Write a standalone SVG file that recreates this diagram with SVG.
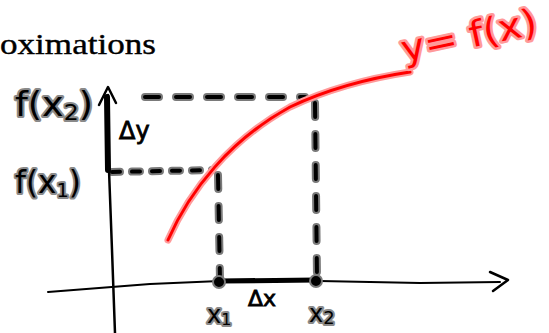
<svg xmlns="http://www.w3.org/2000/svg" width="549" height="333" viewBox="0 0 549 333">
<style>
.ink{fill:none;stroke:#000;stroke-linecap:round;stroke-linejoin:round}
.dash{fill:none;stroke:#000;stroke-width:4;stroke-linecap:round}
.halo{fill:none;stroke:#7a7a7a;stroke-width:8;stroke-linecap:round}
.lbl{font-family:"DejaVu Sans",sans-serif;fill:#000;stroke:#8a8a8a;stroke-width:4;stroke-linejoin:round;paint-order:stroke}
.red{font-family:"DejaVu Sans",sans-serif;fill:#ff0000;stroke:#ff9a9a;stroke-width:5;stroke-linejoin:round;paint-order:stroke}
.note{font-family:"DejaVu Sans",sans-serif;fill:#000}
</style>
<rect width="549" height="333" fill="#fff"/>
<text x="0" y="54" font-family="Liberation Serif,serif" font-size="30" stroke="#000" stroke-width="0.4" textLength="156" lengthAdjust="spacingAndGlyphs">oximations</text>
<g id="connectors">
  <g stroke-dasharray="14 17">
    <line class="halo" x1="145" y1="97" x2="305" y2="97"/>
    <line class="halo" x1="315" y1="103" x2="317" y2="278"/>
    <line class="halo" x1="112" y1="172" x2="212" y2="170" stroke-dasharray="8 12"/>
    <line class="halo" x1="218" y1="175" x2="220" y2="280"/>
    <line class="dash" x1="145" y1="97" x2="305" y2="97"/>
    <line class="dash" x1="315" y1="103" x2="317" y2="278"/>
    <line class="dash" x1="112" y1="172" x2="212" y2="170" stroke-dasharray="8 12"/>
    <line class="dash" x1="218" y1="175" x2="220" y2="280"/>
  </g>
  <path d="M168,240 C190,190 230,140 290,107 C330,88 370,78 410,72" fill="none" stroke="#ff9a9a" stroke-width="7" stroke-linecap="round"/>
  <path d="M168,240 C190,190 230,140 290,107 C330,88 370,78 410,72" fill="none" stroke="#ff0000" stroke-width="3" stroke-linecap="round"/>
  <path class="ink" d="M108,95 L109,170 L112,250 L115,333" stroke-width="2.5"/>
  <path class="ink" d="M107,97 L108,170" stroke-width="6"/>
  <path class="ink" d="M99,105 L108,87 L116,103" stroke-width="2.5"/>
  <path class="ink" d="M48,292 L150,284 L220,281 L320,281 L420,283 L500,282" stroke-width="2"/>
  <path class="ink" d="M490,272 L508,280 L493,291" stroke-width="2.5"/>
  <path class="ink" d="M220,281 L316,280" stroke-width="5"/>
  <circle cx="219" cy="282" r="6" fill="#000" stroke="#7a7a7a" stroke-width="2"/>
  <circle cx="316" cy="281" r="6" fill="#000" stroke="#7a7a7a" stroke-width="2"/>
</g>
<g id="label-fx2"><text class="lbl" x="15" y="116" font-size="34" textLength="78" lengthAdjust="spacingAndGlyphs">f(x<tspan font-size="22" dy="4">2</tspan><tspan dy="-4">)</tspan></text></g>
<g id="label-fx1"><text class="lbl" x="15" y="193" font-size="32" textLength="66" lengthAdjust="spacingAndGlyphs">f(x<tspan font-size="20" dy="4">1</tspan><tspan dy="-4">)</tspan></text></g>
<g id="label-dy"><text class="note" x="119" y="139" font-size="24" stroke="#000" stroke-width="0.8">Δy</text></g>
<g id="label-dx"><text class="note" x="248" y="306" font-size="22" stroke="#000" stroke-width="0.8">Δx</text></g>
<g id="label-x1"><text class="lbl" x="207" y="323" font-size="24">x<tspan font-size="16" dy="2">1</tspan></text></g>
<g id="label-x2"><text class="lbl" x="309" y="322" font-size="24">x<tspan font-size="18" dy="2">2</tspan></text></g>
<g id="label-yfx"><text class="red" x="404" y="62" font-size="36" transform="rotate(-12 404 62)" textLength="138" lengthAdjust="spacingAndGlyphs">y= f(x)</text></g>
</svg>
